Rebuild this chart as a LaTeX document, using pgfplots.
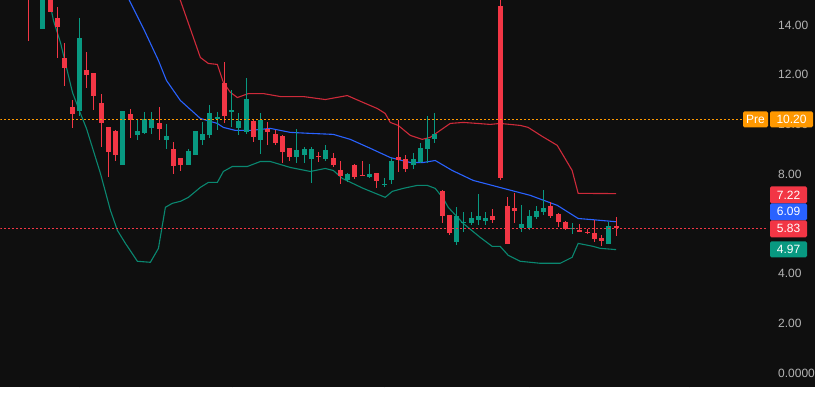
\documentclass[border=0pt]{standalone}
\usepackage{pgfplots}
\pgfplotsset{compat=1.18}
\usepackage{pgfplotstable}
\usepgfplotslibrary{fillbetween}
\usepackage{fontspec}
\setmainfont{Liberation Sans}

\definecolor{bg}{HTML}{0F0F0F}
\definecolor{bandfill}{RGB}{18,21,26}
\definecolor{gridc}{RGB}{32,32,32}
\definecolor{tickc}{RGB}{180,180,180}
\definecolor{cgreen}{HTML}{089981}
\definecolor{cred}{HTML}{F23645}
\definecolor{cblue}{HTML}{2962FF}
\definecolor{corange}{HTML}{FF9800}
\definecolor{upline}{RGB}{205,42,58}
\definecolor{loline}{RGB}{10,135,112}

\pgfplotstableread{
i o h l c
1 15.2 16.5 15.1 16.0
2 13.82 16.0 13.82 15.6
7 10.52 14.26 10.32 13.49
13 8.35 10.52 8.35 10.52
15 9.56 10.2 9.36 9.72
16 9.64 10.48 9.6 10.2
17 9.84 10.48 9.6 10.2
19 9.36 10.0 9.0 9.52
22 8.35 9.0 8.35 8.92
23 8.76 9.72 8.76 9.72
24 9.36 10.08 9.16 9.6
25 9.56 10.8 9.44 10.44
26 10.2 10.48 9.76 10.28
28 10.48 11.37 9.88 10.56
29 9.84 10.44 9.56 10.12
30 9.68 11.85 9.6 11.04
32 9.36 10.44 8.8 10.16
37 8.71 9.8 8.43 8.96
38 8.76 9.1 8.43 9.0
39 8.63 9.08 7.63 9.0
41 8.63 9.16 8.55 8.96
44 7.75 8.03 7.67 7.99
47 7.87 8.39 7.85 7.99
49 7.57 7.83 7.47 7.61
50 7.75 8.67 7.59 8.55
53 8.35 8.84 8.19 8.63
54 8.47 9.24 8.43 9.04
55 9.0 10.32 8.43 9.4
56 9.4 10.44 9.24 9.6
59 5.26 6.67 5.14 6.31
60 6.04 6.47 5.66 6.08
61 6.02 6.5 5.94 6.22
62 6.14 7.19 5.94 6.31
63 6.1 6.5 5.94 6.22
68 5.82 6.75 5.66 5.98
69 5.82 6.55 5.74 6.31
70 6.27 6.71 6.18 6.51
71 6.47 7.35 6.35 6.63
75 5.8 6.02 5.58 5.84
80 5.18 6.06 5.18 5.9
}\greendata

\pgfplotstableread{
i o h l c
0 16.0 16.2 13.37 15.3
3 15.8 15.9 14.5 14.5
4 14.26 14.7 12.65 13.9
5 12.65 13.29 11.53 12.25
6 10.72 11.0 9.84 10.4
8 12.17 12.93 11.45 11.97
9 12.05 12.05 10.56 11.16
10 10.88 11.24 9.08 10.04
11 9.88 9.88 7.87 8.88
12 9.72 9.76 8.55 8.76
14 10.4 10.6 9.44 10.16
18 10.04 10.68 9.36 9.8
20 9.0 9.28 7.99 8.31
21 8.67 8.67 8.11 8.35
27 11.65 12.49 10.04 10.32
31 10.12 10.2 9.28 9.48
33 9.8 10.08 9.16 9.68
34 9.6 9.76 9.16 9.24
35 9.52 9.56 8.43 8.88
36 9.04 9.04 8.55 8.71
40 8.74 8.88 8.51 8.7
42 8.67 8.84 8.27 8.35
43 8.15 8.55 7.59 7.91
45 8.35 8.4 7.79 7.87
46 7.97 8.55 7.91 7.93
48 8.03 8.05 7.43 7.71
51 8.71 10.16 8.07 8.59
52 8.63 8.76 8.07 8.19
57 7.31 7.35 6.02 6.31
58 6.35 6.35 5.54 5.62
64 6.31 6.59 6.02 6.14
65 14.74 15.5 7.75 7.83
66 6.71 7.07 5.18 5.18
67 6.63 7.23 6.02 6.51
72 6.71 6.87 6.22 6.31
73 6.39 6.43 5.86 6.06
74 6.06 6.1 5.74 5.78
76 5.74 5.98 5.66 5.7
77 5.68 5.78 5.58 5.64
78 5.62 6.14 5.26 5.38
79 5.42 5.54 5.1 5.3
81 5.9 6.27 5.5 5.83
}\reddata

\pgfplotstableread{
x y
3.03 27.03
18.87 16.59
20.94 14.98
23.69 12.69
24.79 12.45
26.03 12.41
26.86 11.69
27.82 11.29
28.79 11.08
30.30 11.24
32.37 11.24
34.71 11.12
37.88 11.12
40.91 11.00
43.94 11.16
46.14 10.88
48.07 10.64
49.17 10.44
49.86 10.08
50.96 9.96
52.62 9.56
54.27 9.40
55.37 9.48
56.75 9.76
58.13 10.04
59.92 10.08
61.85 10.04
63.64 10.00
65.01 10.04
67.77 9.96
68.87 9.88
70.80 9.52
72.87 9.16
73.69 8.76
74.93 8.15
75.76 7.23
80.99 7.22
}\upperband

\pgfplotstableread{
x y
3.03 21.41
9.92 17.39
13.91 14.98
15.84 13.86
17.91 12.57
19.01 11.77
20.94 10.96
23.69 10.24
26.03 10.04
26.86 9.88
28.51 9.76
30.58 9.76
33.33 9.84
36.09 9.68
38.84 9.64
42.01 9.60
44.35 9.40
47.11 9.04
49.86 8.67
52.62 8.47
54.41 8.47
56.06 8.55
58.40 8.15
61.29 7.75
63.91 7.55
65.98 7.39
69.15 7.15
72.87 6.75
75.76 6.22
77.41 6.18
80.99 6.09
}\midband

\pgfplotstableread{
x y
2.34 15.78
3.44 14.18
4.41 13.29
6.06 11.29
7.16 10.44
7.99 9.84
9.92 8.03
11.29 6.55
12.26 5.74
13.36 5.22
15.01 4.50
16.80 4.46
17.91 5.02
18.87 6.67
19.83 6.83
20.94 6.91
22.04 7.07
23.69 7.47
24.79 7.67
26.03 7.67
26.86 8.11
28.10 8.31
30.17 8.31
31.96 8.51
33.33 8.51
36.09 8.27
38.84 8.11
40.91 8.23
42.01 8.15
43.25 7.83
46.14 7.43
49.17 7.07
50.14 7.31
51.65 7.43
53.58 7.55
54.96 7.55
56.06 7.43
57.16 7.03
57.85 6.67
59.92 6.02
62.26 5.46
63.91 5.10
65.01 5.10
66.12 4.74
67.77 4.50
70.52 4.42
73.28 4.42
74.93 4.66
75.76 5.22
77.82 5.10
78.79 5.02
80.99 4.97
}\lowerband

\pgfplotsset{
  candle/.style 2 args={forget plot, draw=none, mark=none,
    error bars/.cd, y dir=both, y explicit, error mark=none,
    error bar style={line width=#1, draw=#2, solid}},
}

\begin{document}
\begin{tikzpicture}
\fill[bg] (0pt,0pt) rectangle (815pt,387pt);
\begin{axis}[
  at={(0pt,0pt)}, anchor=south west,
  width=768pt, height=387pt, scale only axis,
  xmin=-3.857, xmax=101.93, ymin=-0.562, ymax=14.98,
  axis line style={draw=none},
  major tick length=0pt,
  xtick={7.02,28.1,49.1,69.0,91.05}, xticklabels={},
  ytick={0,2,4,6,8,10,12,14},
  yticklabels={0.0000,2.00,4.00,{},8.00,10.00,12.00,14.00},
  yticklabel pos=right,
  yticklabel style={font=\fontsize{12}{14}\selectfont, text=tickc, anchor=west, inner sep=0pt, xshift=10pt},
  grid=major, grid style={line width=1pt, draw=gridc},
  clip mode=individual,
]
\addplot[draw=none, name path=up, forget plot] table[x=x,y=y] {\upperband};
\addplot[draw=none, name path=lo, forget plot] table[x=x,y=y] {\lowerband};
\addplot[fill=bandfill, draw=none, forget plot] fill between[of=up and lo];

\addplot[upline, line width=1.1pt, mark=none, forget plot] table[x=x,y=y] {\upperband};
\addplot[cblue, line width=1.1pt, mark=none, forget plot] table[x=x,y=y] {\midband};
\addplot[loline, line width=1.1pt, mark=none, forget plot] table[x=x,y=y] {\lowerband};

% wicks
\addplot[candle={1pt}{cgreen}]
  table[x=i, y expr={(\thisrow{h}+\thisrow{l})/2}, y error expr={(\thisrow{h}-\thisrow{l})/2}] {\greendata};
\addplot[candle={1pt}{cred}]
  table[x=i, y expr={(\thisrow{h}+\thisrow{l})/2}, y error expr={(\thisrow{h}-\thisrow{l})/2}] {\reddata};
% bodies
\addplot[candle={5pt}{cgreen}]
  table[x=i, y expr={(\thisrow{o}+\thisrow{c})/2}, y error expr={max(abs(\thisrow{c}-\thisrow{o})/2,0.025)}] {\greendata};
\addplot[candle={5pt}{cred}]
  table[x=i, y expr={(\thisrow{o}+\thisrow{c})/2}, y error expr={max(abs(\thisrow{c}-\thisrow{o})/2,0.025)}] {\reddata};

% price lines
\addplot[corange, line width=1.2pt, dash pattern=on 1.5pt off 2.5pt, mark=none, forget plot] coordinates {(-3.857,10.2) (98.5,10.2)};
\addplot[cred, line width=1.2pt, dash pattern=on 1.5pt off 2.5pt, mark=none, forget plot] coordinates {(-3.857,5.83) (101.93,5.83)};
\end{axis}

\begin{scope}[every node/.style={inner sep=0pt, text=white, font=\fontsize{12}{14}\selectfont, rounded corners=1.5pt}]
\node[fill=corange, minimum width=25pt, minimum height=16pt] at (755.5pt,268pt) {Pre};
\node[fill=corange, minimum width=43pt, minimum height=16pt] at (791.5pt,268pt) {10.20};
\node[fill=cred, minimum width=37pt, minimum height=17pt] at (788.5pt,192.5pt) {7.22};
\node[fill=cblue, minimum width=37pt, minimum height=17pt] at (788.5pt,175.5pt) {6.09};
\node[fill=cred, minimum width=37pt, minimum height=17pt] at (788.5pt,158.5pt) {5.83};
\node[fill=cgreen, minimum width=37pt, minimum height=16pt] at (788.5pt,138pt) {4.97};
\end{scope}
\end{tikzpicture}
\end{document}
